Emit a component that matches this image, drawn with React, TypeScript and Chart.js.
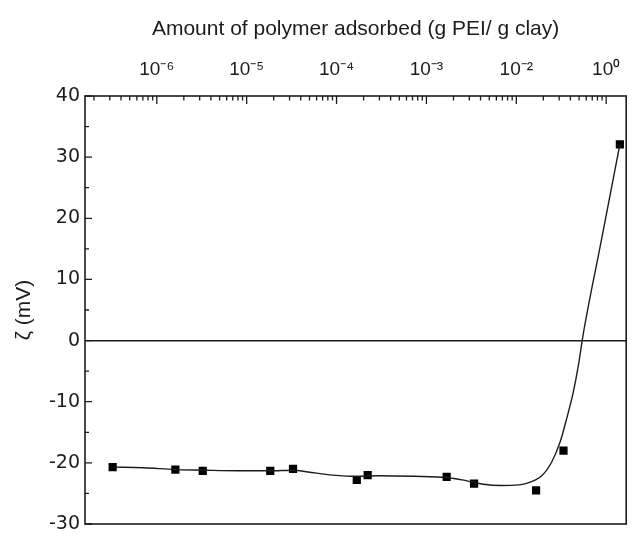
import { useEffect, useRef } from "react";
import { Chart, registerables } from "chart.js";

Chart.register(...registerables);

// Measured points (amount adsorbed, zeta potential in mV)
const pointX = [3.23e-7, 1.61e-6, 3.25e-6, 1.83e-5, 3.28e-5, 1.68e-4, 2.22e-4, 1.68e-3, 3.39e-3, 1.66e-2, 3.35e-2, 1.42e-1];
const pointY = [-20.7, -21.1, -21.3, -21.3, -21.0, -22.8, -22.0, -22.3, -23.4, -24.5, -18.0, 32.1];

// Hand-drawn guide curve
const curveX = [3.23e-7, 7.06e-7, 1.61e-6, 3.25e-6, 8.02e-6, 1.83e-5, 3.28e-5, 4.83e-5, 9.06e-5, 1.68e-4, 2.92e-4, 7.16e-4, 1.68e-3, 2.75e-3, 4.33e-3, 6.76e-3, 1.06e-2, 1.26e-2, 1.92e-2, 2.47e-2, 3.07e-2, 3.63e-2, 4.31e-2, 4.9e-2, 5.56e-2, 8.87e-2, 1.42e-1];
const curveY = [-20.7, -20.8, -21.1, -21.2, -21.3, -21.3, -21.2, -21.5, -22.0, -22.2, -22.1, -22.2, -22.4, -22.9, -23.5, -23.7, -23.6, -23.4, -22.1, -19.9, -16.6, -12.8, -8.4, -4.1, 1.1, 16.5, 32.1];

// Axis ticks
const xTickValues = [1e-6, 1e-5, 1e-4, 1e-3, 1e-2, 1e-1];
const xTickLabels = ["10⁻⁶", "10⁻⁵", "10⁻⁴", "10⁻³", "10⁻²", "10⁰"];
const X_MIN = 1.59e-7;
const X_MAX = 0.167;
const Y_MIN = -30;
const Y_MAX = 40;
const Y_STEP = 10;
const Y_MINOR_STEP = 5;

const xTitle = "Amount of polymer adsorbed (g PEI/ g clay)";
const yTitle = "ζ (mV)";

const INK = "#1c1c1c";

const framePlugin = {
  id: "frameTicks",
  afterDraw(chart: any) {
    const { ctx, chartArea: a, scales } = chart;
    const xs = scales.x;
    const ys = scales.y;
    ctx.save();
    ctx.strokeStyle = INK;
    ctx.lineWidth = 1.6;
    ctx.strokeRect(a.left, a.top, a.right - a.left, a.bottom - a.top);
    ctx.lineWidth = 1.3;
    ctx.beginPath();
    for (let v = Y_MIN; v <= Y_MAX; v += Y_MINOR_STEP) {
      const py = ys.getPixelForValue(v);
      const len = v % Y_STEP === 0 ? 7 : 4;
      ctx.moveTo(a.left, py);
      ctx.lineTo(a.left + len, py);
    }
    const d0 = Math.floor(Math.log10(X_MIN));
    const d1 = Math.ceil(Math.log10(X_MAX));
    for (let d = d0; d <= d1; d++) {
      for (let m = 1; m <= 9; m++) {
        const v = m * Math.pow(10, d);
        if (v < X_MIN || v > X_MAX) continue;
        const px = xs.getPixelForValue(v);
        const len = m === 1 ? 8 : 4.5;
        ctx.moveTo(px, a.top);
        ctx.lineTo(px, a.top + len);
      }
    }
    ctx.stroke();
    ctx.restore();
  },
};

export default function App() {
  const ref = useRef<HTMLCanvasElement | null>(null);

  useEffect(() => {
    document.body.style.margin = "0";
    const canvas = ref.current;
    if (!canvas) return;
    const chart = new Chart(canvas, {
      type: "scatter",
      data: {
        datasets: [
          {
            label: "curve",
            data: curveX.map((x, i) => ({ x, y: curveY[i] })),
            showLine: true,
            borderColor: INK,
            borderWidth: 1.4,
            pointRadius: 0,
            cubicInterpolationMode: "monotone",
            fill: false,
          },
          {
            label: "zeta",
            data: pointX.map((x, i) => ({ x, y: pointY[i] })),
            showLine: false,
            pointStyle: "rect",
            pointRadius: 5.8,
            pointBackgroundColor: "#000",
            pointBorderColor: "#000",
            pointBorderWidth: 0,
          },
        ],
      },
      options: {
        responsive: false,
        animation: false,
        events: [],
        layout: { padding: { left: 0, top: 0, right: 4, bottom: 10 } },
        plugins: {
          legend: { display: false },
          tooltip: { enabled: false },
          title: { display: false },
        },
        scales: {
          x: {
            type: "logarithmic",
            position: "top",
            min: X_MIN,
            max: X_MAX,
            afterBuildTicks: (scale: any) => {
              scale.ticks = xTickValues.map((v) => ({ value: v }));
            },
            afterFit: (scale: any) => {
              scale.height = 96;
              scale.paddingLeft = 0;
              scale.paddingRight = 0;
            },
            grid: { display: false, drawTicks: false },
            border: { display: false },
            ticks: {
              autoSkip: false,
              maxRotation: 0,
              padding: 15,
              color: INK,
              font: { family: "'Liberation Sans Narrow', 'Liberation Sans', Arial, sans-serif", size: 19 },
              callback: (_v: any, i: number) => xTickLabels[i],
            },
            title: {
              display: true,
              text: xTitle,
              color: INK,
              padding: { top: 17, bottom: 0 },
              font: { family: "'Liberation Sans', Arial, sans-serif", size: 21 },
            },
          },
          y: {
            type: "linear",
            min: Y_MIN,
            max: Y_MAX,
            afterFit: (scale: any) => {
              scale.width = 85;
              scale.paddingTop = 0;
              scale.paddingBottom = 0;
            },
            grid: {
              drawTicks: false,
              lineWidth: 1.5,
              color: (c: any) => (c.tick && c.tick.value === 0 ? INK : "rgba(0,0,0,0)"),
            },
            border: { display: false },
            ticks: {
              stepSize: Y_STEP,
              padding: 5,
              color: INK,
              font: { family: "'DejaVu Sans', sans-serif", size: 19 },
            },
            title: {
              display: true,
              text: yTitle,
              color: INK,
              padding: { top: 12, bottom: 0 },
              font: { family: "'Liberation Sans', Arial, sans-serif", size: 21 },
            },
          },
        },
      },
      plugins: [framePlugin],
    } as any);
    return () => chart.destroy();
  }, []);

  return (
    <div style={{ width: 632, height: 534, overflow: "hidden" }}>
      <canvas ref={ref} width={632} height={534} style={{ display: "block" }} />
    </div>
  );
}
